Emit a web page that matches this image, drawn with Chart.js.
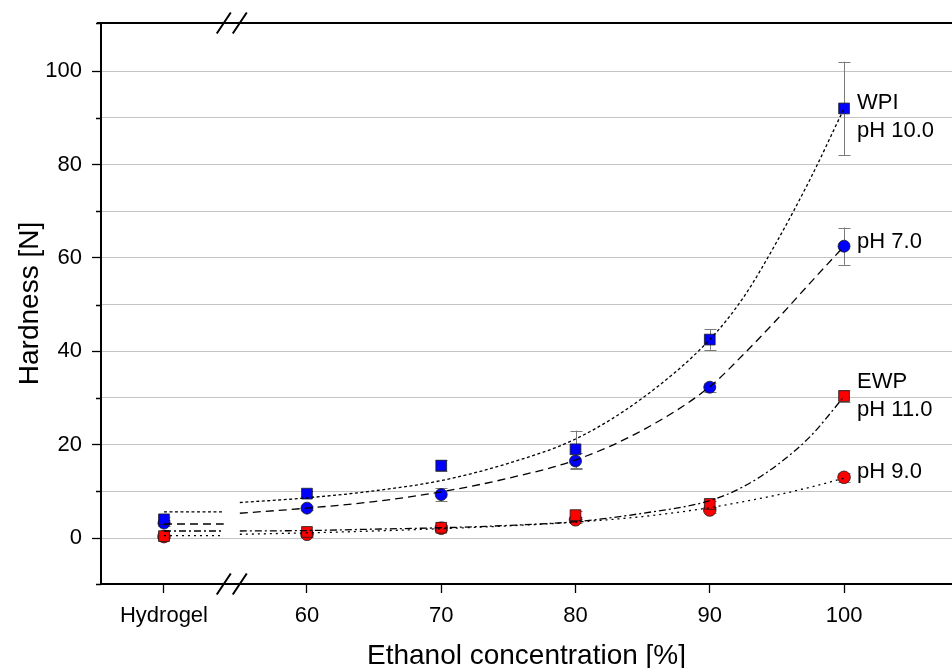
<!DOCTYPE html>
<html>
<head>
<meta charset="utf-8">
<script src="https://cdn.jsdelivr.net/npm/chart.js@4"></script>
<style>
  html, body { margin: 0; padding: 0; background: #ffffff; }
  canvas { display: block; }
</style>
</head>
<body>
<canvas id="c" width="952" height="668"></canvas>
<script>
// ---------- data ----------
const categories = ['Hydrogel', '60', '70', '80', '90', '100'];
const xValues = [49.35, 60, 70, 80, 90, 100];          // axis values (Hydrogel placed before the break)
const yTicks = [0, 20, 40, 60, 80, 100];

const wpi10 = [4.0, 9.5, 15.5, 19.0, 42.5, 92.0];
const wpi10Err = [0.6, 0.5, 1.2, 4.0, 2.2, 10.0];
const wpi7 = [3.2, 6.4, 9.3, 16.5, 32.3, 62.5];
const wpi7Err = [0.6, 0.5, 1.4, 1.8, 1.0, 4.0];
const ewp11 = [0.4, 1.3, 2.2, 4.9, 7.3, 30.4];
const ewp11Err = [0.3, 0.5, 0.5, 0.8, 0.7, 1.3];
const ewp9 = [0.3, 0.8, 2.1, 3.9, 6.0, 13.0];
const ewp9Err = [0.3, 0.5, 0.6, 0.7, 0.7, 1.0];

// fitted curves
const fitX = [55, 60, 65, 70, 75, 80, 85, 90, 92.5, 95, 97.5, 100];
const fitWpi10 = [7.6, 8.6, 10.1, 12.3, 16.0, 21.2, 30.0, 42.5, 51.5, 63.5, 77.0, 92.0];
const fitWpi7 = [5.3, 6.4, 7.8, 9.9, 12.8, 16.7, 23.1, 32.4, 39.3, 46.8, 54.7, 62.5];
const fitEwp11 = [1.5, 1.6, 1.9, 2.2, 2.7, 3.5, 5.3, 8.0, 11.0, 15.6, 21.8, 30.3];
const fitEwp9 = [0.8, 1.1, 1.5, 2.0, 2.6, 3.4, 4.6, 6.5, 7.8, 9.2, 10.9, 12.8];

// hydrogel level segments
const segX = [49.35, 53.8];
const segWpi10 = 5.6, segWpi7 = 3.0, segEwp11 = 1.5, segEwp9 = 0.5;

const breakX = 54.4;

// ---------- helpers ----------
const pts = (xs, ys) => xs.map((x, i) => ({x: x, y: ys[i]}));
const seg = (v) => segX.map(x => ({x: x, y: v}));
const FONT = "'Liberation Sans', Arial, sans-serif";

function lineDs(data, dash) {
  return {type: 'scatter', data: data, showLine: true, borderColor: '#000', borderWidth: 1.3,
    borderDash: dash, pointRadius: 0, pointHoverRadius: 0, fill: false,
    tension: 0.4, cubicInterpolationMode: 'monotone', order: 0};
}
function markDs(data, err, color, style, r) {
  return {type: 'scatter', data: pts(xValues, data), err: err, backgroundColor: color,
    borderColor: '#1a1a1a', borderWidth: 0.8, pointStyle: style, pointRadius: r,
    pointHoverRadius: r, order: 1};
}

const dashes = {wpi10: [3, 2.5], wpi7: [8, 5], ewp11: [7, 3, 2, 3], ewp9: [2, 4]};

const datasets = [
  lineDs(pts(fitX, fitWpi10), dashes.wpi10),
  lineDs(pts(fitX, fitWpi7), dashes.wpi7),
  lineDs(pts(fitX, fitEwp11), dashes.ewp11),
  lineDs(pts(fitX, fitEwp9), dashes.ewp9),
  lineDs(seg(segWpi10), dashes.wpi10),
  lineDs(seg(segWpi7), dashes.wpi7),
  lineDs(seg(segEwp11), dashes.ewp11),
  lineDs(seg(segEwp9), dashes.ewp9),
  markDs(wpi10, wpi10Err, '#0000ff', 'rect', 7.6),
  markDs(wpi7, wpi7Err, '#0000ff', 'circle', 6),
  markDs(ewp11, ewp11Err, '#ff0000', 'rect', 7.6),
  markDs(ewp9, ewp9Err, '#ff0000', 'circle', 6.3)
];

const annotations = [
  {text: 'WPI', y: 93.2},
  {text: 'pH 10.0', y: 87.2},
  {text: 'pH 7.0', y: 63.5},
  {text: 'EWP', y: 33.5},
  {text: 'pH 11.0', y: 27.4},
  {text: 'pH 9.0', y: 14.1}
];

// ---------- plugins ----------
const errorBars = {
  id: 'errorBars',
  beforeDatasetsDraw(chart) {
    const ctx = chart.ctx, ys = chart.scales.y;
    ctx.save();
    ctx.strokeStyle = '#7a7a7a';
    ctx.lineWidth = 1;
    chart.data.datasets.forEach((ds, di) => {
      if (!ds.err) return;
      const meta = chart.getDatasetMeta(di);
      meta.data.forEach((el, i) => {
        const v = ds.data[i].y, e = ds.err[i];
        const x = Math.round(el.x) + 0.5;
        const y1 = ys.getPixelForValue(v + e), y2 = ys.getPixelForValue(v - e);
        ctx.beginPath();
        ctx.moveTo(x, y1); ctx.lineTo(x, y2);
        ctx.moveTo(x - 6, Math.round(y1) + 0.5); ctx.lineTo(x + 6, Math.round(y1) + 0.5);
        ctx.moveTo(x - 6, Math.round(y2) + 0.5); ctx.lineTo(x + 6, Math.round(y2) + 0.5);
        ctx.stroke();
      });
    });
    ctx.restore();
  }
};

const decorations = {
  id: 'decorations',
  afterDraw(chart) {
    const ctx = chart.ctx, a = chart.chartArea, xs = chart.scales.x, ys = chart.scales.y;
    ctx.save();
    // top frame line
    ctx.strokeStyle = '#000';
    ctx.lineWidth = 2;
    ctx.beginPath();
    ctx.moveTo(a.left - 4, a.top); ctx.lineTo(a.right, a.top);
    ctx.stroke();
    // minor ticks on y
    ctx.lineWidth = 1.3;
    ctx.beginPath();
    ys.ticks.forEach(t => {
      if (yTicks.indexOf(t.value) >= 0) return;
      const y = Math.round(ys.getPixelForValue(t.value)) + 0.5;
      ctx.moveTo(a.left - 5, y); ctx.lineTo(a.left, y);
    });
    ctx.stroke();
    // axis break marks
    const bx = xs.getPixelForValue(breakX);
    ctx.lineWidth = 2;
    [a.top, a.bottom].forEach(yy => {
      ctx.beginPath();
      [-8, 8].forEach(dx => {
        ctx.moveTo(bx + dx - 7, yy + 10.5);
        ctx.lineTo(bx + dx + 7, yy - 10.5);
      });
      ctx.stroke();
    });
    // annotations
    ctx.fillStyle = '#000';
    ctx.font = '22px ' + FONT;
    ctx.textAlign = 'left';
    ctx.textBaseline = 'middle';
    const tx = xs.getPixelForValue(100) + 13;
    annotations.forEach(an => ctx.fillText(an.text, tx, ys.getPixelForValue(an.y)));
    ctx.restore();
  }
};

new Chart(document.getElementById('c'), {
  type: 'scatter',
  data: {datasets: datasets},
  options: {
    responsive: false,
    animation: false,
    devicePixelRatio: 1,
    layout: {autoPadding: false, padding: {top: 23, right: 0, bottom: 0, left: 0}},
    plugins: {legend: {display: false}, tooltip: {enabled: false}},
    events: [],
    scales: {
      x: {
        type: 'linear', min: 44.66, max: 108.04,
        afterBuildTicks: (axis) => { axis.ticks = xValues.map(v => ({value: v})); },
        afterFit: (s) => { s.height = 84; s.paddingRight = 0; s.paddingLeft = 0; },
        ticks: {
          callback: (v) => { const i = xValues.indexOf(v); return i >= 0 ? categories[i] : ''; },
          font: {family: FONT, size: 22}, color: '#000', padding: 10,
          maxRotation: 0, autoSkip: false
        },
        grid: {drawOnChartArea: false, tickLength: 9, tickColor: '#000', tickWidth: 1.3},
        border: {color: '#000', width: 2},
        title: {display: true, text: 'Ethanol concentration [%]', color: '#000',
          font: {family: FONT, size: 28, lineHeight: 1}, padding: {top: 0, bottom: -2}}
      },
      y: {
        min: -9.85, max: 110.3,
        afterFit: (s) => { s.width = 101; s.paddingTop = 0; s.paddingBottom = 0; },
        ticks: {
          stepSize: 10,
          callback: (v) => (yTicks.indexOf(v) >= 0 ? String(v) : ''),
          font: {family: FONT, size: 22}, color: '#000', padding: 10
        },
        grid: {
          color: (c) => (c.tick && (c.tick.value % 10 !== 0 || c.tick.value <= -10 || c.tick.value >= 110)) ? 'rgba(0,0,0,0)' : '#c4c4c4',
          lineWidth: 1,
          tickColor: (c) => (c.tick && yTicks.indexOf(c.tick.value) >= 0) ? '#000' : 'rgba(0,0,0,0)',
          tickLength: 9, tickWidth: 1.3
        },
        border: {color: '#000', width: 2},
        title: {display: true, text: 'Hardness [N]', color: '#000',
          font: {family: FONT, size: 28, lineHeight: 1}, padding: {top: 16, bottom: 0}}
      }
    }
  },
  plugins: [errorBars, decorations]
});
</script>
</body>
</html>
